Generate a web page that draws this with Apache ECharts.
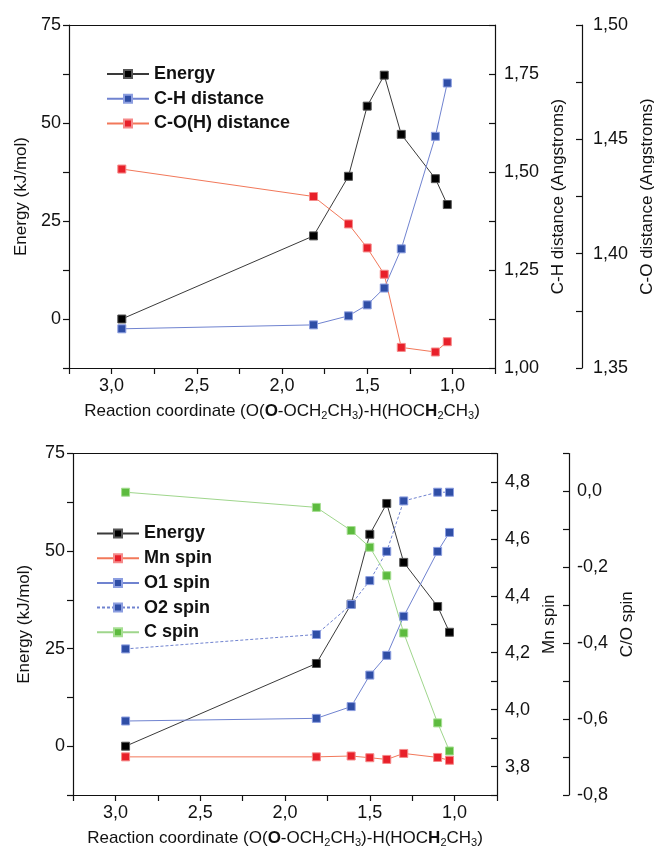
<!DOCTYPE html>
<html>
<head>
<meta charset="utf-8">
<script src="https://cdn.jsdelivr.net/npm/echarts@6/dist/echarts.min.js"></script>
<style>
  html, body { margin: 0; padding: 0; background: #fff; }
  #chart { width: 654px; height: 853px; }
</style>
</head>
<body>
<div id="chart"></div>
<script>
// Reaction coordinate (Å) for each optimised geometry along the path
const reactionCoord = [2.94, 1.815, 1.61, 1.50, 1.40, 1.30, 1.10, 1.03];
// Relative energy (kJ/mol)
const energy = [0, 21.2, 36.4, 54.3, 62.2, 47.1, 35.8, 29.2];
// Bond distances (Å)
const chDistance = [1.100, 1.110, 1.133, 1.161, 1.204, 1.304, 1.591, 1.727];
const coDistance = [1.437, 1.425, 1.413, 1.4025, 1.391, 1.359, 1.357, 1.3615];
// Spin populations
const mnSpin = [3.834, 3.834, 3.837, 3.831, 3.825, 3.846, 3.832, 3.822];
const o1Spin = [-0.605, -0.598, -0.567, -0.484, -0.432, -0.329, -0.158, -0.108];
const o2Spin = [-0.415, -0.377, -0.298, -0.235, -0.158, -0.025, -0.002, -0.002];
const cSpin = [-0.002, -0.042, -0.103, -0.147, -0.222, -0.373, -0.610, -0.684];

const FONT = '"Liberation Sans", Arial, Helvetica, sans-serif';
const INK = '#111';

function pairs(ys) { return reactionCoord.map((x, i) => [x, ys[i]]); }

// Show a label only where the value is a multiple of `step`
function stepLabel(step, digits) {
  return function (v) {
    const k = v / step;
    if (Math.abs(k - Math.round(k)) > 1e-6) return '';
    if (Math.abs(v) < 1e-9) v = 0;
    return v.toFixed(digits).replace('.', ',');
  };
}

const coordName = '{n|Reaction coordinate (O(}{b|O}{n|-OCH}{s|2}{n|CH}{s|3}{n|)-H(HOC}{b|H}{s|2}{n|CH}{s|3}{n|)}';
const coordRich = {
  n: { fontSize: 17, fontFamily: FONT, color: INK, lineHeight: 20 },
  b: { fontSize: 17, fontFamily: FONT, color: INK, lineHeight: 20, fontWeight: 'bold' },
  s: { fontSize: 11, fontFamily: FONT, color: INK, lineHeight: 10, verticalAlign: 'bottom' }
};

const axisLine = { show: true, onZero: false, lineStyle: { color: INK, width: 1.2 } };
const labelStyle = { color: INK, fontSize: 18, fontFamily: FONT };
const nameStyle = { color: INK, fontSize: 17, fontFamily: FONT };

function xBottom(grid) {
  return {
    type: 'value', gridIndex: grid, position: 'bottom', inverse: true,
    min: 0.75, max: 3.25, interval: 0.25,
    axisLine: axisLine,
    axisTick: { show: true, length: 6, lineStyle: { color: INK, width: 1.2 } },
    axisLabel: Object.assign({ margin: 9, formatter: stepLabel(0.5, 1), showMinLabel: true, showMaxLabel: true }, labelStyle),
    splitLine: { show: false },
    name: coordName, nameLocation: 'middle', nameGap: 33,
    nameTextStyle: { rich: coordRich }
  };
}
function xTop(grid) {
  return {
    type: 'value', gridIndex: grid, position: 'top', inverse: true,
    min: 0.75, max: 3.25,
    axisLine: axisLine, axisTick: { show: false }, axisLabel: { show: false }, splitLine: { show: false }
  };
}
function yAxis(o) {
  return {
    type: 'value', gridIndex: o.grid, position: o.pos, offset: o.offset || 0,
    min: o.min, max: o.max, interval: o.interval,
    axisLine: axisLine,
    axisTick: { show: true, inside: o.inside, length: 6, lineStyle: { color: INK, width: 1.2 } },
    axisLabel: Object.assign({ margin: o.margin, formatter: stepLabel(o.step, o.digits), showMinLabel: true, showMaxLabel: true }, labelStyle),
    splitLine: { show: false },
    name: o.name, nameLocation: 'middle', nameRotate: 90, nameGap: o.nameGap,
    nameTextStyle: nameStyle
  };
}

const styles = {
  energy: { line: '#3a3a3a', mark: '#000000', border: '#555555' },
  blue:   { line: '#7083d0', mark: '#2f4ea6', border: '#8c9ee0' },
  red:    { line: '#f2785a', mark: '#e8202a', border: '#f58a8a' },
  green:  { line: '#9fd68c', mark: '#5dbb3f', border: '#a6de92' }
};

function series(name, st, data, xi, yi, dashed) {
  return {
    type: 'line', name: name, xAxisIndex: xi, yAxisIndex: yi, data: data,
    symbol: 'rect', symbolSize: 8, showSymbol: true,
    lineStyle: { color: st.line, width: 1, type: dashed ? [3, 2] : 'solid' },
    itemStyle: { color: st.mark, borderColor: st.border, borderWidth: 1 },
    emphasis: { disabled: true },
    animation: false, z: 3
  };
}

const legendText = { fontSize: 18, fontWeight: 'bold', fontFamily: FONT, color: INK, lineHeight: 16 };

const option = {
  animation: false,
  backgroundColor: '#ffffff',
  grid: [
    { left: 69, top: 25, width: 426, height: 343, containLabel: false, outerBoundsMode: 'none' },
    { left: 73, top: 453.5, width: 424, height: 341.5, containLabel: false, outerBoundsMode: 'none' }
  ],
  legend: [
    {
      orient: 'vertical', left: 101, top: 60, itemWidth: 42, itemHeight: 10, itemGap: 6.7,
      textStyle: legendText, selectedMode: false,
      data: ['Energy', 'C-H distance', 'C-O(H) distance']
    },
    {
      orient: 'vertical', left: 91, top: 519.5, itemWidth: 42, itemHeight: 10, itemGap: 6.7,
      textStyle: legendText, selectedMode: false,
      data: ['Energy', 'Mn spin', 'O1 spin', 'O2 spin', 'C spin']
    }
  ],
  xAxis: [xBottom(0), xTop(0), xBottom(1), xTop(1)],
  yAxis: [
    yAxis({ grid: 0, pos: 'left', min: -12.5, max: 75, interval: 12.5, step: 25, digits: 0, inside: false, margin: 8,
            name: 'Energy (kJ/mol)', nameGap: 37 }),
    yAxis({ grid: 0, pos: 'right', min: 1.0, max: 1.875, interval: 0.125, step: 0.25, digits: 2, inside: true, margin: 9,
            name: 'C-H distance (Angstroms)', nameGap: 51 }),
    yAxis({ grid: 0, pos: 'right', offset: 87, min: 1.35, max: 1.5, interval: 0.025, step: 0.05, digits: 2, inside: true, margin: 11,
            name: 'C-O distance (Angstroms)', nameGap: 54 }),
    yAxis({ grid: 1, pos: 'left', min: -12.5, max: 75, interval: 12.5, step: 25, digits: 0, inside: false, margin: 8,
            name: 'Energy (kJ/mol)', nameGap: 40 }),
    yAxis({ grid: 1, pos: 'right', min: 3.7, max: 4.9, interval: 0.1, step: 0.2, digits: 1, inside: true, margin: 8,
            name: 'Mn spin', nameGap: 38 }),
    yAxis({ grid: 1, pos: 'right', offset: 72, min: -0.8, max: 0.1, interval: 0.1, step: 0.2, digits: 1, inside: true, margin: 8,
            name: 'C/O spin', nameGap: 47 })
  ],
  series: [
    series('Energy', styles.energy, pairs(energy), 0, 0),
    series('C-H distance', styles.blue, pairs(chDistance), 0, 1),
    series('C-O(H) distance', styles.red, pairs(coDistance), 0, 2),
    series('Energy', styles.energy, pairs(energy), 2, 3),
    series('Mn spin', styles.red, pairs(mnSpin), 2, 4),
    series('O1 spin', styles.blue, pairs(o1Spin), 2, 5),
    series('O2 spin', styles.blue, pairs(o2Spin), 2, 5, true),
    series('C spin', styles.green, pairs(cSpin), 2, 5)
  ]
};

const chart = echarts.init(document.getElementById('chart'), null, { renderer: 'canvas' });
chart.setOption(option);
</script>
</body>
</html>
